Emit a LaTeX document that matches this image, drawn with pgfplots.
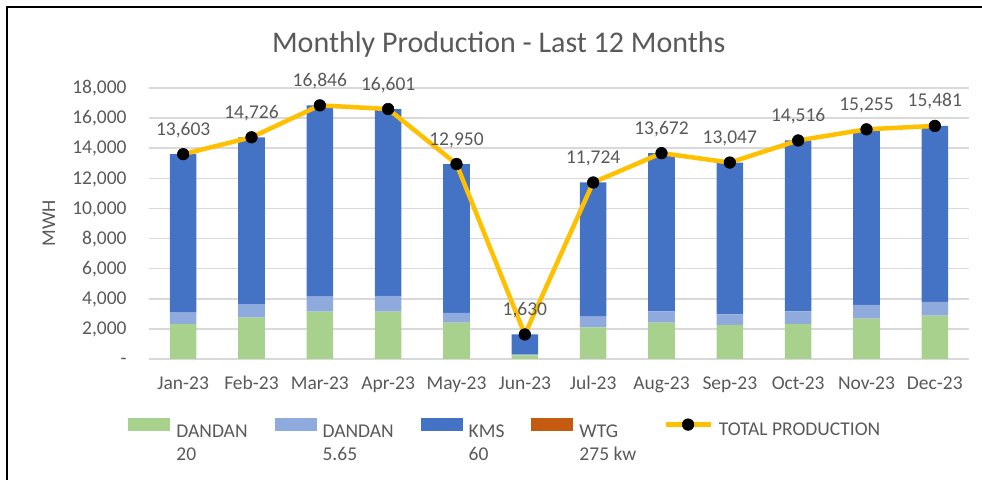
\documentclass[border=0pt]{standalone}
\usepackage{fontspec}
\setmainfont{Carlito}
\usepackage{pgfplots}
\usepackage{pgfplotstable}
\pgfplotsset{compat=1.18}
\definecolor{tgray}{HTML}{595959}
\definecolor{ggray}{HTML}{D9D9D9}
\definecolor{cgreen}{HTML}{A9D18E}
\definecolor{clblue}{HTML}{8FAADC}
\definecolor{cblue}{HTML}{4472C4}
\definecolor{corange}{HTML}{C55A11}
\definecolor{cyellow}{HTML}{FFC000}

\pgfplotsset{
  swatch/.style={legend image code/.code={\fill[##1] (0pt,0pt) rectangle (21pt,6.3pt);}},
  lineimg/.style={legend image code/.code={\draw[##1, mark repeat=2, mark phase=2] plot coordinates {(0pt,3.15pt) (11.25pt,3.15pt) (22.5pt,3.15pt)};}},
  frame/.style={at={(74.5pt,60.5pt)}, anchor=south west,
    scale only axis, width=410pt, height=135.5pt,
    xmin=-0.5, xmax=11.5, ymin=0, ymax=18000, clip=false},
}

\pgfplotstableread{
x  dandan20 dandan565 kms   wtg  total
0  2330     750       10523 0    13603
1  2740     910       11076 0    14726
2  3140     1000      12706 0    16846
3  3140     1060      12401 0    16601
4  2410     660       9880  0    12950
5  240      90        1300  0    1630
6  2100     710       8914  0    11724
7  2410     750       10512 0    13672
8  2260     700       10087 0    13047
9  2330     840       11346 0    14516
10 2680     910       11665 0    15255
11 2880     910       11691 0    15481
}\datatable

\newcommand{\lfont}{\fontsize{9.75}{11.5}\selectfont}

\begin{document}
\begin{tikzpicture}
\useasboundingbox (0,0) rectangle (491pt,240pt);
\draw[line width=1pt, black] (3.35pt,0pt) -- (3.35pt,236.65pt) -- (491pt,236.65pt);
\begin{axis}[
  frame,
  ybar stacked, bar width=13.3pt,
  xtick={0,...,11},
  xticklabels={Jan-23,Feb-23,Mar-23,Apr-23,May-23,Jun-23,Jul-23,Aug-23,Sep-23,Oct-23,Nov-23,Dec-23},
  ytick={0,2000,...,18000},
  yticklabels={-,{2,000},{4,000},{6,000},{8,000},{10,000},{12,000},{14,000},{16,000},{18,000}},
  scaled y ticks=false,
  major tick length=0pt,
  axis line style={draw=none},
  ymajorgrids, major grid style={ggray, line width=0.75pt},
  tick label style={font=\lfont, text=tgray},
  xticklabel style={anchor=base, yshift=-15.5pt},
  yticklabel style={anchor=base east, inner sep=0pt, xshift=-11pt, yshift=-2.85pt},
  ylabel={MWH},
  every axis y label/.style={at={(axis description cs:-0.1146,0.5)}, rotate=90, anchor=base, font=\lfont, text=tgray},
  title={Monthly Production - Last 12 Months},
  every axis title/.style={at={(axis description cs:0.4266,1.1317)}, anchor=base, font=\fontsize{15}{18}\selectfont, text=tgray},
]
\addplot[fill=cgreen, draw=none] table[x=x, y=dandan20] {\datatable};
\addplot[fill=clblue, draw=none] table[x=x, y=dandan565] {\datatable};
\addplot[fill=cblue, draw=none] table[x=x, y=kms] {\datatable};
\addplot[fill=corange, draw=none] table[x=x, y=wtg] {\datatable};
\end{axis}
\begin{axis}[
  frame,
  hide axis,
  legend columns=5,
  legend cell align=left,
  legend style={at={(-0.02561,-0.2173)}, anchor=north west, draw=none, fill=none,
    inner sep=0pt, column sep=0pt, font=\lfont, text=tgray,
    nodes={inner sep=0pt},
    /tikz/every odd column/.append style={column sep=3pt},
    /tikz/every even column/.append style={column sep=13.5pt}},
]
\addlegendimage{fill=cgreen, draw=none, swatch}
\addlegendentry{\begin{tabular}[t]{@{}l@{}}DANDAN\\20\end{tabular}}
\addlegendimage{fill=clblue, draw=none, swatch}
\addlegendentry{\begin{tabular}[t]{@{}l@{}}DANDAN\\5.65\end{tabular}}
\addlegendimage{fill=cblue, draw=none, swatch}
\addlegendentry{\begin{tabular}[t]{@{}l@{}}KMS\\60\end{tabular}}
\addlegendimage{fill=corange, draw=none, swatch}
\addlegendentry{\begin{tabular}[t]{@{}l@{}}WTG\\275 kw\end{tabular}}
\addplot[cyellow, line width=2.25pt,
  mark=*, mark size=2.9pt, mark options={draw=black, fill=black, line width=0.3pt},
  nodes near coords={\pgfmathprintnumber[fixed, precision=0, assume math mode=true, 1000 sep={,}]{\pgfplotspointmeta}},
  every node near coord/.append style={anchor=base, yshift=9.5pt, inner sep=0pt, font=\lfont, text=tgray},
  lineimg
] table[x=x, y=total] {\datatable};
\addlegendentry{TOTAL PRODUCTION}
\end{axis}
\end{tikzpicture}
\end{document}
